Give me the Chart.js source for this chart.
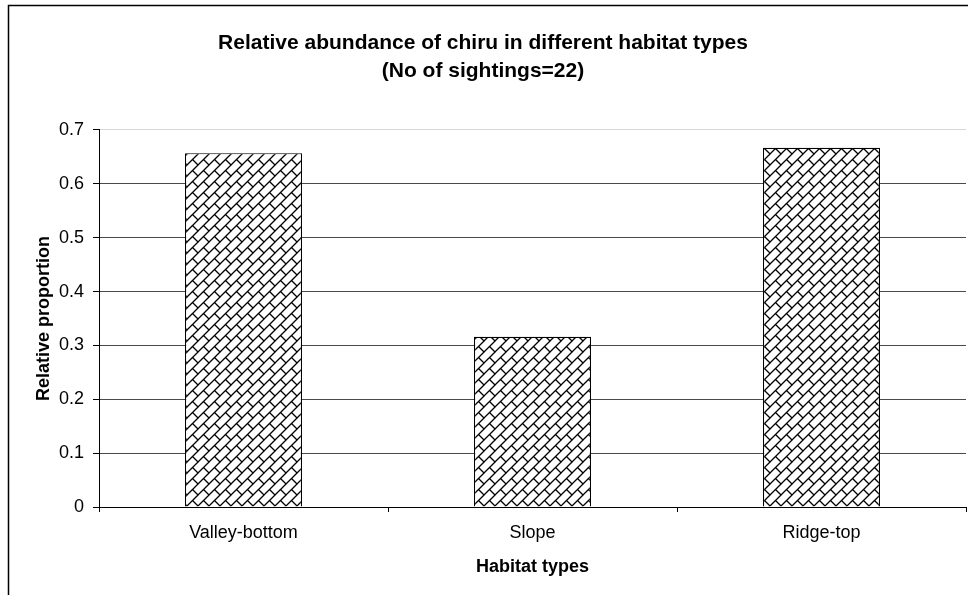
<!DOCTYPE html>
<html>
<head>
<meta charset="utf-8">
<title>Relative abundance of chiru</title>
<script src="https://cdn.jsdelivr.net/npm/chart.js@4.4.0/dist/chart.umd.min.js"></script>
<style>
  html, body { margin: 0; padding: 0; background: #fff; }
  canvas { display: block; }
</style>
</head>
<body>
<canvas id="chiruChart" width="968" height="595"></canvas>
<script>
// data
const habitats = ['Valley-bottom', 'Slope', 'Ridge-top'];
const proportions = [0.657, 0.316, 0.667];
const yTickValues = [0, 0.1, 0.2, 0.3, 0.4, 0.5, 0.6, 0.7];
const titleLines = ['Relative abundance of chiru in different habitat types', '(No of sightings=22)'];

Chart.defaults.font.family = "'Liberation Sans', Arial, sans-serif";
Chart.defaults.color = '#000';

// diagonal brick hatch like the excel fill
function makeBrickPattern() {
    const s = 11;
    const c = document.createElement('canvas');
    c.width = s;
    c.height = s;
    const g = c.getContext('2d');
    g.fillStyle = '#fff';
    g.fillRect(0, 0, s, s);
    g.strokeStyle = '#000';
    g.lineWidth = 1.3;
    g.beginPath();
    g.moveTo(-2, s + 2); g.lineTo(s + 2, -2);
    g.moveTo(-2, 2); g.lineTo(2, -2);
    g.moveTo(s - 2, s + 2); g.lineTo(s + 2, s - 2);
    g.moveTo(s / 2, s / 2); g.lineTo(s + 2, s + 2);
    g.moveTo(-2, -2); g.lineTo(0.5, 0.5);
    g.stroke();
    return g.createPattern(c, 'repeat');
}

// outer frame of the chart object (only top and left edges are visible)
const framePlugin = {
    id: 'frame',
    beforeDraw(chart) {
        const ctx = chart.ctx;
        ctx.save();
        ctx.fillStyle = '#fff';
        ctx.fillRect(0, 0, chart.width, chart.height);
        ctx.strokeStyle = '#000';
        ctx.lineWidth = 1.5;
        ctx.beginPath();
        ctx.moveTo(8.5, chart.height + 5);
        ctx.lineTo(8.5, 5.5);
        ctx.lineTo(chart.width + 5, 5.5);
        ctx.stroke();
        ctx.restore();
    }
};

const ctx = document.getElementById('chiruChart').getContext('2d');
const chiruChart = new Chart(ctx, {
    type: 'bar',
    data: {
        labels: habitats,
        datasets: [{
            label: 'Relative proportion',
            data: proportions,
            backgroundColor: makeBrickPattern(),
            borderColor: '#000',
            borderWidth: 1.2,
            categoryPercentage: 1,
            barPercentage: 0.405
        }]
    },
    options: {
        responsive: false,
        animation: false,
        devicePixelRatio: 1,
        layout: { padding: { left: 0, right: 2, top: 0, bottom: 0 } },
        plugins: {
            legend: { display: false },
            tooltip: { enabled: false },
            title: {
                display: true,
                text: titleLines,
                font: { size: 21, weight: 'bold', lineHeight: 1.333 },
                padding: { top: 29, bottom: 45 },
                color: '#000'
            }
        },
        scales: {
            x: {
                offset: true,
                grid: {
                    offset: true,
                    drawOnChartArea: false,
                    drawTicks: true,
                    tickLength: 5,
                    tickColor: '#000'
                },
                border: { color: '#000', width: 1 },
                ticks: { font: { size: 18 }, padding: 10, maxRotation: 0 },
                title: {
                    display: true,
                    text: 'Habitat types',
                    font: { size: 18, weight: 'bold' },
                    padding: { top: 0, bottom: 17 }
                },
                afterFit(scale) { scale.height = 88; }
            },
            y: {
                min: 0,
                max: 0.7,
                afterBuildTicks(scale) {
                    scale.ticks = yTickValues.map(v => ({ value: v }));
                },
                grid: {
                    color: c => (c.tick && c.tick.value === 0.7) ? '#d6d6d6' : '#4a4a4a',
                    lineWidth: 1,
                    tickLength: 6,
                    tickColor: '#000'
                },
                border: { color: '#000', width: 1 },
                ticks: {
                    font: { size: 18 },
                    padding: 9,
                    callback: v => String(v)
                },
                title: {
                    display: true,
                    text: 'Relative proportion',
                    font: { size: 18, weight: 'bold' },
                    padding: { top: 33, bottom: 0 }
                },
                afterFit(scale) { scale.width = 99; }
            }
        }
    },
    plugins: [framePlugin]
});
</script>
</body>
</html>
